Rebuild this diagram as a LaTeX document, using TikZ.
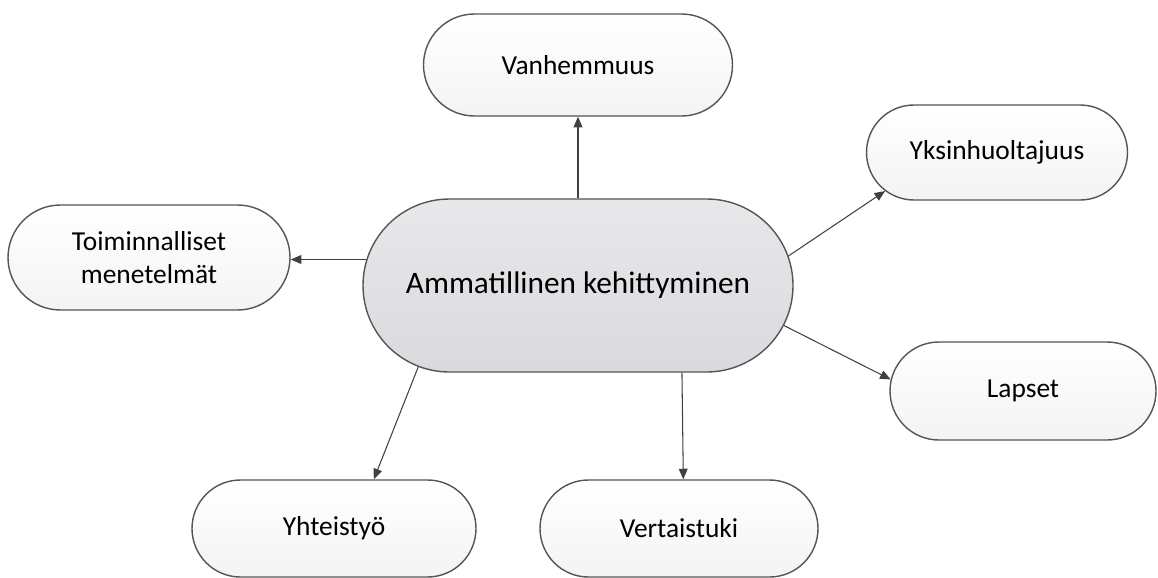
\documentclass[tikz,border=0pt]{standalone}
\usepackage{fontspec}
\setmainfont{Carlito}
\usetikzlibrary{shapes.misc,arrows.meta}

\begin{document}
\begin{tikzpicture}[mynode/.style={rounded rectangle,draw=edgegray,line width=0.8pt,
    top color=white,bottom color=gray!9,inner sep=0pt,align=center,
    font=\fontsize{15.6}{18.8}\selectfont},
  myarrow/.style={-{Triangle[length=6pt,width=5pt]},draw=arrowgray,line width=0.6pt}]
\definecolor{edgegray}{HTML}{555555}
\definecolor{arrowgray}{HTML}{404040}
\definecolor{mistlight}{HTML}{E8E8EB}
\definecolor{mistdark}{HTML}{DADADE}
\useasboundingbox (0,0) rectangle (23.16,-11.54);
\node [mynode,top color=mistlight,bottom color=mistdark,minimum width=8.60cm,minimum height=3.46cm,
  font=\fontsize{17.8}{21}\selectfont] (main) at (11.56,-5.71) {Ammatillinen kehittyminen};
  \foreach \nm/\pos/\w/\h/\txt in {vanh/{11.56,-1.30}/6.18/2.04/Vanhemmuus,
    toim/{2.98,-5.15}/5.64/2.10/{Toiminnalliset\\menetelmät},
    yksi/{19.94,-3.05}/5.22/1.90/Yksinhuoltajuus,
    lapset/{20.46,-7.82}/5.32/1.96/Lapset,
    yht/{6.68,-10.57}/5.68/1.94/Yhteistyö,
    vert/{13.58,-10.57}/5.56/1.94/Vertaistuki}
  {  \node [mynode,minimum width=\w cm,minimum height=\h cm] (\nm) at (\pos) {\txt};}
\draw [myarrow] (main.north) -- (vanh.south);
\draw [myarrow] (main.173) -- (main.173 -| toim.east);
\draw [myarrow] (main.8) -- (yksi.199);
\draw [myarrow] (main.349) -- (lapset.175);
\draw [myarrow] (main.207) -- (yht.51);
\draw [myarrow] (main.320) -- (vert.85);
\end{tikzpicture}
\end{document}
